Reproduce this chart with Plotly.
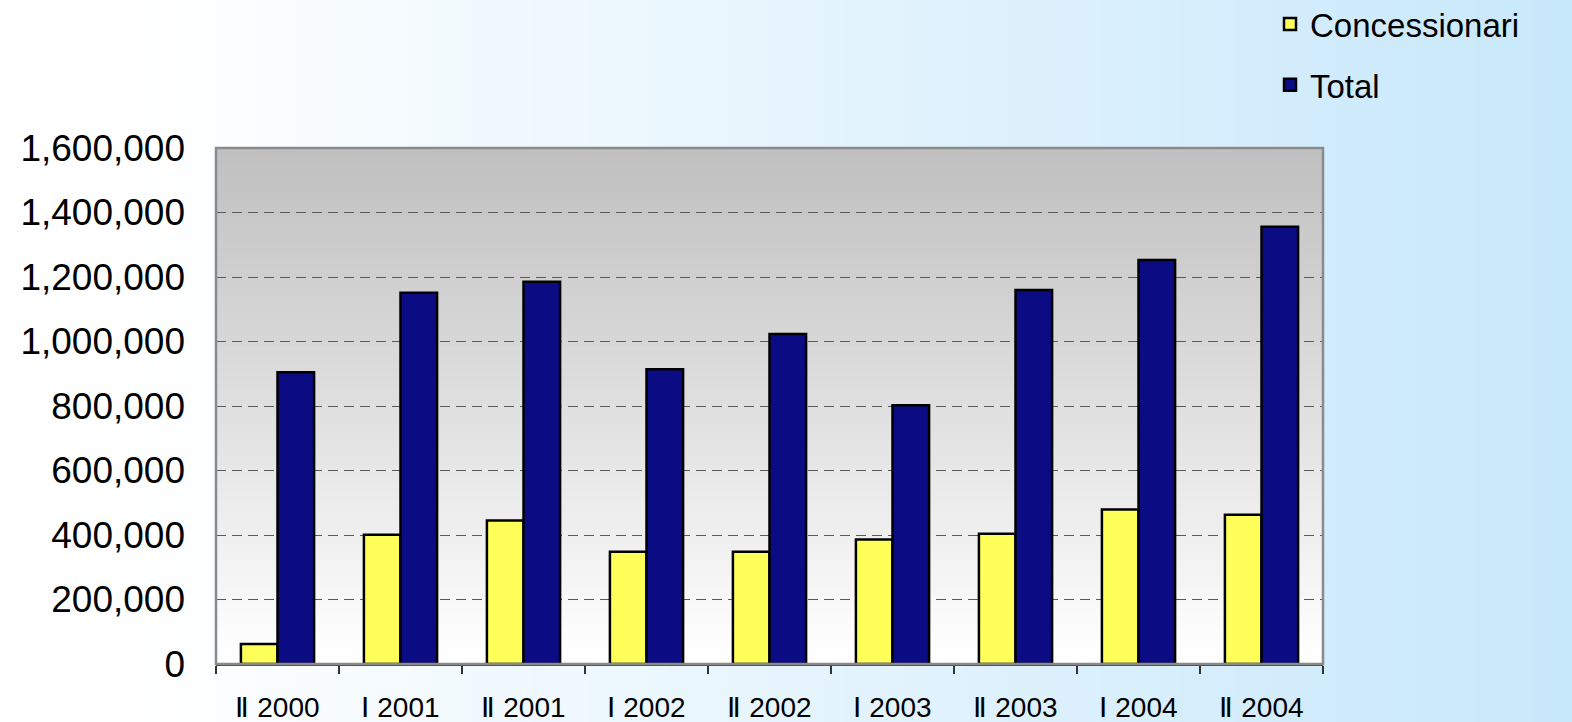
import plotly.graph_objects as go

categories = ["Ⅱ 2000", "Ⅰ 2001", "Ⅱ 2001", "Ⅰ 2002", "Ⅱ 2002", "Ⅰ 2003", "Ⅱ 2003", "Ⅰ 2004", "Ⅱ 2004"]
concessionari = [62000, 401000, 445000, 348000, 348000, 386000, 404000, 479000, 463000]
total = [905000, 1151000, 1185000, 914000, 1023000, 802000, 1160000, 1253000, 1356000]
y_ticks = [0, 200000, 400000, 600000, 800000, 1000000, 1200000, 1400000, 1600000]

W, H = 1572, 722
L, R, T, B = 216, 249, 148, 58
pw, ph = W - L - R, H - T - B

def lerp(c1, c2, t):
    return "rgb(%d,%d,%d)" % tuple(round(a + (b - a) * t) for a, b in zip(c1, c2))

shapes = []
# page background: horizontal gradient white -> light blue
n = 80
x0p = -L / pw
x1p = (W - L) / pw
y0p = -B / ph
y1p = (H - B) / ph
for i in range(n):
    t = i / (n - 1)
    xa = x0p + (x1p - x0p) * i / n
    xb = x0p + (x1p - x0p) * (i + 1) / n + 0.002
    tt = max(0.0, (t - 0.08) / 0.92)
    shapes.append(dict(type="rect", xref="paper", yref="paper", x0=xa, x1=xb, y0=y0p - 0.05, y1=y1p + 0.05,
                       fillcolor=lerp((255, 255, 255), (200, 232, 251), tt), line_width=0, layer="below"))
# plot area: vertical gradient gray (top) -> white (bottom)
m = 60
for i in range(m):
    t = i / (m - 1)
    ya = i / m
    yb = (i + 1) / m + 0.002
    shapes.append(dict(type="rect", xref="paper", yref="paper", x0=0, x1=1, y0=ya, y1=min(yb, 1),
                       fillcolor=lerp((255, 255, 255), (192, 192, 192), t), line_width=0, layer="below"))
# plot border
shapes.append(dict(type="rect", xref="paper", yref="paper", x0=0, x1=1, y0=0, y1=1,
                   line=dict(color="#8a8a8a", width=2.5), fillcolor="rgba(0,0,0,0)", layer="above"))

fig = go.Figure()
fig.add_trace(go.Bar(name="Concessionari", x=categories, y=concessionari,
                     marker=dict(color="#ffff5a", line=dict(color="black", width=2.5)),
                     legendgroup="a"))
fig.add_trace(go.Bar(name="Total", x=categories, y=total,
                     marker=dict(color="#0b0b84", line=dict(color="black", width=2.5)),
                     legendgroup="b"))

font_family = "Liberation Sans, Arial, sans-serif"
fig.update_layout(
    width=W, height=H,
    margin=dict(l=L, r=R, t=T, b=B, pad=0, autoexpand=False),
    paper_bgcolor="white",
    plot_bgcolor="rgba(0,0,0,0)",
    barmode="group", bargap=0.405, bargroupgap=0,
    shapes=shapes,
    font=dict(family=font_family, color="black"),
    legend=dict(x=(1270 - L) / pw, y=(H - B + 4) / ph, xanchor="left", yanchor="top",
                font=dict(size=33, family=font_family), bgcolor="rgba(0,0,0,0)",
                traceorder="grouped", tracegroupgap=15, itemwidth=30),
    xaxis=dict(type="category", tickson="boundaries", ticks="outside", ticklen=8, tickcolor="#333",
               tickwidth=1.5, showline=True, linecolor="#444", linewidth=2,
               tickfont=dict(size=28, family=font_family), showgrid=False,
               ticklabelstandoff=17, automargin=False),
    yaxis=dict(range=[0, 1600000], tickvals=y_ticks, tickformat=",", showgrid=True,
               gridcolor="#5a5a5a", griddash="10px,6px", gridwidth=1.3, zeroline=False,
               showline=False, ticks="", tickfont=dict(size=37, family=font_family),
               ticklabelstandoff=30, automargin=False),
)
fig.write_html("out.html", config={"displayModeBar": False},
               post_script="document.body.style.margin='0';document.body.style.overflow='hidden';")
